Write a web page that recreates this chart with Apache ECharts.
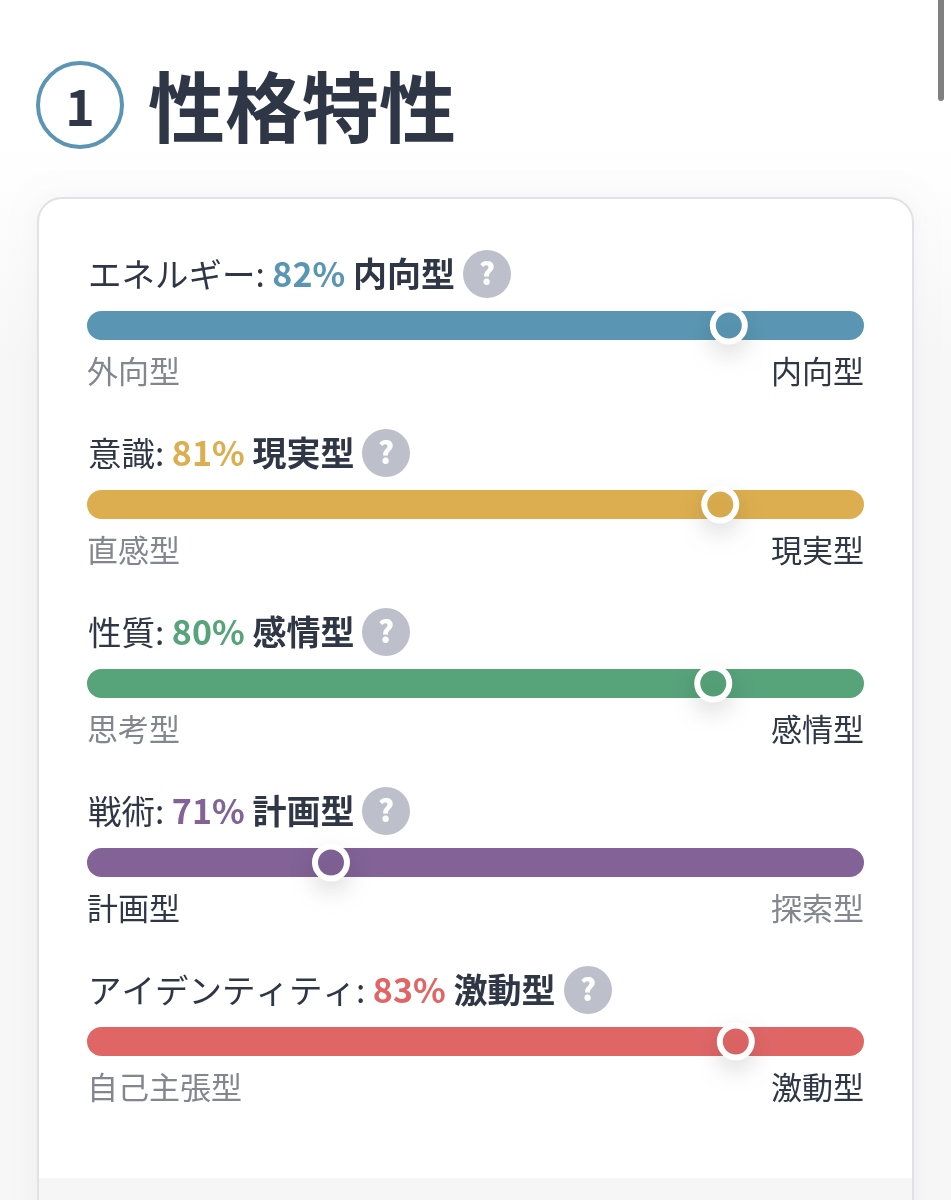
<!DOCTYPE html>
<html>
<head>
<meta charset="utf-8">
<style>html,body{margin:0;padding:0;background:#fff}#main{width:951px;height:1200px}</style>
<script src="https://cdn.jsdelivr.net/npm/echarts@6/dist/echarts.min.js"></script>
</head>
<body>
<div id="main"></div>
<script>
const heading = "性格特性";
const traits = ["エネルギー", "意識", "性質", "戦術", "アイデンティティ"];
const percents = [82, 81, 80, 71, 83];
const winners = ["内向型", "現実型", "感情型", "計画型", "激動型"];
const leftLabels = ["外向型", "直感型", "思考型", "計画型", "自己主張型"];
const rightLabels = ["内向型", "現実型", "感情型", "探索型", "激動型"];
// where the knob sits on the 0-100 track
const knobs = [82.6, 81.5, 80.6, 31.4, 83.5];
const colors = ["#5a96b3", "#dcae4f", "#57a37a", "#826297", "#e06666"];

const font = '"Noto Sans CJK JP"';
const dark = "#2f3747";
const grey = "#83868f";
const rowTops = [310, 489, 668, 847, 1026];
const helpX = [487, 386, 386, 386, 588];

var chart = echarts.init(document.getElementById("main"));

var grids = [], xAxes = [], yAxes = [], series = [];
var graphics = [
    {type: "rect", z: -10, shape: {x: 0, y: 0, width: 951, height: 1200},
        style: {fill: new echarts.graphic.LinearGradient(0, 0, 0, 1, [
            {offset: 0, color: "#ffffff"}, {offset: 0.12, color: "#ffffff"},
            {offset: 0.3, color: "#f7f7f8"}, {offset: 1, color: "#f7f7f8"}])}},
    {type: "rect", z: -9, shape: {x: 938, y: -10, width: 6, height: 111, r: 3}, style: {fill: "#808080"}},
    {type: "circle", z: 0, shape: {cx: 80, cy: 105, r: 42}, style: {fill: "#fff", stroke: colors[0], lineWidth: 4}},
    {type: "text", z: 1, x: 80, y: 107, style: {text: "1", fill: dark, font: "bold 50px " + font, align: "center", verticalAlign: "middle"}},
    {type: "text", z: 1, x: 148, y: 108, style: {text: heading, fill: dark, font: "bold 77px " + font, verticalAlign: "middle"}},
    {type: "rect", z: -5, shape: {x: 38, y: 198, width: 875, height: 1040, r: 24},
        style: {fill: "#fff", stroke: "#e1e2e5", lineWidth: 2, shadowBlur: 24, shadowColor: "rgba(0,0,0,0.04)"}},
    {type: "rect", z: -4, shape: {x: 39, y: 1178, width: 873, height: 30}, style: {fill: "#f6f6f7"}}
];

traits.forEach(function (trait, i) {
    grids.push({left: 87, width: 777, top: rowTops[i] + 1, height: 29});
    xAxes.push({type: "value", gridIndex: i, min: 0, max: 100, show: false});
    yAxes.push({type: "category", gridIndex: i, data: [trait], show: false});
    series.push({
        type: "bar", xAxisIndex: i, yAxisIndex: i, data: [100], barWidth: 29, silent: true,
        itemStyle: {color: colors[i], borderRadius: 15}
    });
    series.push({
        type: "scatter", xAxisIndex: i, yAxisIndex: i, z: 5, symbolSize: 32, silent: true,
        data: [[knobs[i], trait]],
        itemStyle: {color: colors[i], borderColor: "#fff", borderWidth: 6, opacity: 1,
            shadowBlur: 22, shadowOffsetY: 10, shadowColor: "rgba(0,0,0,0.10)"}
    });

    var rich = {
        a: {fill: dark, fontFamily: "Noto Sans CJK JP", fontSize: 33.5, fontWeight: 400},
        p: {fill: colors[i], fontFamily: "Noto Sans CJK JP", fontSize: 34, fontWeight: 700},
        w: {fill: dark, fontFamily: "Noto Sans CJK JP", fontSize: 34, fontWeight: 700}
    };
    graphics.push({type: "text", z: 1, x: 88, y: rowTops[i] - 36, style: {
        rich: rich, verticalAlign: "middle",
        text: "{a|" + trait + ": }{p|" + percents[i] + "%}{w| " + winners[i] + "}"
    }});
    graphics.push({type: "circle", z: 1, shape: {cx: helpX[i], cy: rowTops[i] - 36, r: 24}, style: {fill: "#bdc0ca"}});
    graphics.push({type: "text", z: 2, x: helpX[i], y: rowTops[i] - 36, style: {
        text: "?", fill: "#fff", font: "900 30px " + font, align: "center", verticalAlign: "middle"
    }});
    graphics.push({type: "text", z: 1, x: 87, y: rowTops[i] + 61, style: {
        text: leftLabels[i], fill: leftLabels[i] === winners[i] ? dark : grey,
        font: "400 31px " + font, verticalAlign: "middle"
    }});
    graphics.push({type: "text", z: 1, x: 864, y: rowTops[i] + 61, style: {
        text: rightLabels[i], fill: rightLabels[i] === winners[i] ? dark : grey,
        font: "400 31px " + font, align: "right", verticalAlign: "middle"
    }});
});

chart.setOption({
    animation: false,
    grid: grids,
    xAxis: xAxes,
    yAxis: yAxes,
    series: series,
    graphic: graphics
});
</script>
</body>
</html>
